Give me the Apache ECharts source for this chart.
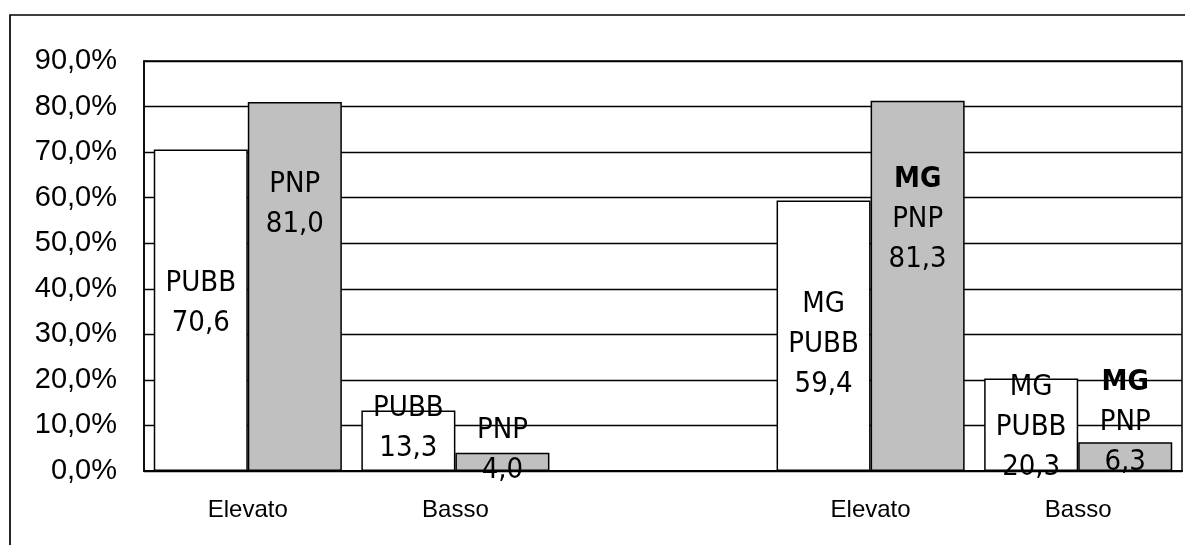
<!DOCTYPE html>
<html>
<head>
<meta charset="utf-8">
<style>
  html, body { margin: 0; padding: 0; background: #fff; }
  #chart { width: 1185px; height: 545px; }
</style>
<script src="https://cdn.jsdelivr.net/npm/echarts@6/dist/echarts.min.js"></script>
</head>
<body>
<div id="chart"></div>
<script>
// Categories along the x axis (the empty slot separates the two blocks)
const categories = ['Elevato', 'Basso', '', 'Elevato', 'Basso'];

// Percentages for each series
const pubbValues = [70.6, 13.3, null, 59.4, 20.3];
const pnpValues  = [81.0, 4.0, null, 81.3, 6.3];

// Extra first line of the bar labels in the second block
const groupPrefix = ['', '', '', 'MG', 'MG'];

// Y axis range
const yMin = 0, yMax = 90, yStep = 10;

// Vertical nudges (px) for the in-bar labels
const pubbLabelShift = [-7, -12, 0, 9, 3];
const pnpLabelShift  = [-82, -11, 0, -66, -34];

const NARROW = "'Liberation Sans Narrow', 'Arial Narrow', 'DejaVu Sans Condensed', sans-serif";
const REGULAR = "'Liberation Sans', Arial, sans-serif";

function fmt(v) { return v.toFixed(1).replace('.', ','); }

function makeData(values, name, shifts, boldPrefix) {
  return values.map((v, i) => {
    if (v == null) return null;
    const lines = [];
    if (groupPrefix[i]) lines.push('{' + (boldPrefix ? 'b' : 'n') + '|' + groupPrefix[i] + '}');
    lines.push('{n|' + name + '}');
    lines.push('{n|' + fmt(v) + '}');
    return {
      value: v,
      label: { formatter: lines.join('\n'), offset: [0, shifts[i]] }
    };
  });
}

const richStyles = {
  n: { fontFamily: NARROW, fontSize: 29, lineHeight: 40, color: '#000' },
  b: { fontFamily: NARROW, fontSize: 29, lineHeight: 40, color: '#000', fontWeight: 'bold' }
};

const chart = echarts.init(document.getElementById('chart'), null, { renderer: 'canvas' });

chart.setOption({
  animation: false,
  backgroundColor: '#fff',
  grid: {
    left: 144, right: 3, top: 61, bottom: 74,
    show: true, borderColor: '#000', borderWidth: 1.5, backgroundColor: 'transparent'
  },
  graphic: [{
    type: 'rect',
    shape: { x: 10, y: 15, width: 1300, height: 700 },
    style: { fill: 'none', stroke: '#000', lineWidth: 1.7 },
    silent: true, z: 10
  }],
  xAxis: {
    type: 'category',
    data: categories,
    axisLine: { show: true, lineStyle: { color: '#000', width: 2 } },
    axisTick: { show: false },
    axisLabel: { color: '#000', fontFamily: REGULAR, fontSize: 24, margin: 27 },
    splitLine: { show: false }
  },
  yAxis: {
    type: 'value',
    min: yMin, max: yMax, interval: yStep,
    axisLine: { show: true, lineStyle: { color: '#000', width: 1.5 } },
    axisTick: { show: false },
    axisLabel: {
      color: '#000', fontFamily: REGULAR, fontSize: 29, margin: 27,
      padding: [6, 0, 0, 0],
      formatter: v => fmt(v) + '%'
    },
    splitLine: { show: true, lineStyle: { color: '#000', width: 1.3 } }
  },
  series: [
    {
      name: 'PUBB',
      type: 'bar',
      data: makeData(pubbValues, 'PUBB', pubbLabelShift, false),
      barGap: '0%',
      barCategoryGap: '9.4%',
      itemStyle: { color: '#fff', borderColor: '#000', borderWidth: 1.5 },
      label: { show: true, position: 'inside', rich: richStyles, align: 'center' }
    },
    {
      name: 'PNP',
      type: 'bar',
      data: makeData(pnpValues, 'PNP', pnpLabelShift, true),
      barGap: '0%',
      barCategoryGap: '9.4%',
      itemStyle: { color: '#c0c0c0', borderColor: '#000', borderWidth: 1.5 },
      label: { show: true, position: 'inside', rich: richStyles, align: 'center' }
    }
  ]
});
</script>
</body>
</html>
